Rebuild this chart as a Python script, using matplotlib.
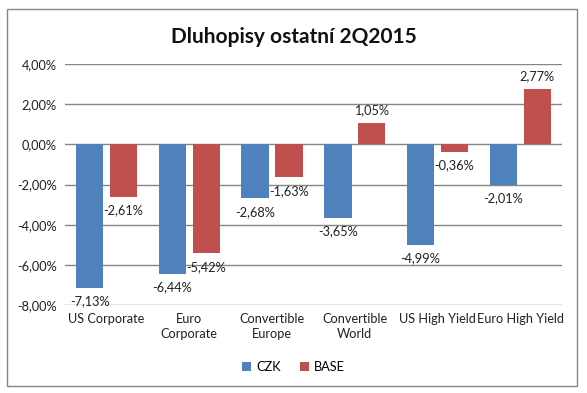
import numpy as np
import matplotlib.pyplot as plt
from matplotlib.patches import Rectangle

categories = ["US Corporate", "Euro\nCorporate", "Convertible\nEurope",
              "Convertible\nWorld", "US High Yield", "Euro High Yield"]
czk = [-7.13, -6.44, -2.68, -3.65, -4.99, -2.01]
base = [-2.61, -5.42, -1.63, 1.05, -0.36, 2.77]
yticks = [4, 2, 0, -2, -4, -6, -8]

plt.rcParams['font.family'] = ['Lato', 'DejaVu Sans']

fig = plt.figure(figsize=(5.87, 3.93), dpi=100)
ax = fig.add_axes([0.111, 0.224, 0.846, 0.613])

# outer chart frame like Excel
fig.patches.append(Rectangle((0.012, 0.018), 0.971, 0.96, transform=fig.transFigure,
                             fill=False, edgecolor="#868686", linewidth=1))

x = np.arange(len(categories))
w = 0.33
b1 = ax.bar(x - 0.205, czk, w, color="#4F81BD", label="CZK", zorder=3)
b2 = ax.bar(x + 0.205, base, w, color="#C0504D", label="BASE", zorder=3)

def fmt(v):
    return f"{v:.2f}%".replace(".", ",")

for bars, vals in ((b1, czk), (b2, base)):
    for r, v in zip(bars, vals):
        cx = r.get_x() + r.get_width() / 2
        if v < 0:
            ax.annotate(fmt(v), (cx, v), xytext=(0, -5.5), textcoords="offset points",
                        ha="center", va="top", fontsize=9.2, color="#222222")
        else:
            ax.annotate(fmt(v), (cx, v), xytext=(0, 5), textcoords="offset points",
                        ha="center", va="bottom", fontsize=9.2, color="#222222")

ax.set_xlim(-0.5, len(categories) - 0.5)
ax.set_ylim(-8, 4)
ax.set_yticks(yticks)
ax.set_yticklabels([fmt(t) for t in yticks], fontsize=9.2, color="#222222")
ax.set_xticks(x)
ax.set_xticklabels(categories, fontsize=9.2, color="#222222", linespacing=1.3)
ax.tick_params(length=0, pad=6)
ax.grid(axis="y", color="#868686", linewidth=1, zorder=0)
for s in ax.spines.values():
    s.set_visible(False)

fig.text(0.5, 0.905, "Dluhopisy ostatní 2Q2015", ha="center", va="center",
         fontsize=15, fontweight="bold", color="#111111")

fig.legend(handles=[b1, b2], loc="center", bbox_to_anchor=(0.5, 0.066), ncol=2,
           frameon=False, fontsize=9.2, handlelength=0.7, handleheight=0.7,
           handletextpad=0.4, columnspacing=1.5)

fig.savefig("out.png", dpi=100)
